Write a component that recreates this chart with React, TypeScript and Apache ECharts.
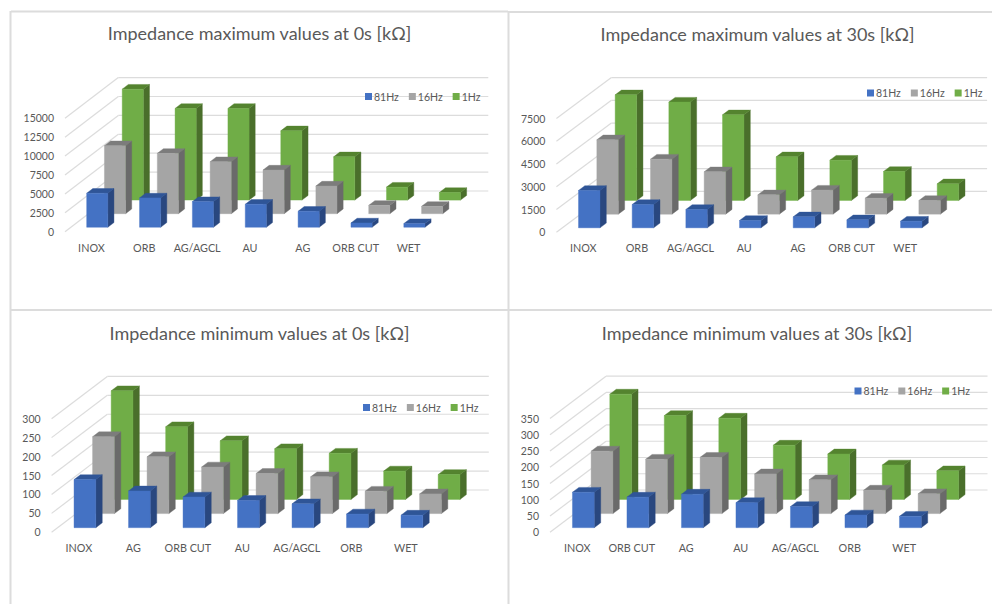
import React, { useEffect, useRef } from "react";
import * as echarts from "echarts";

const FONT = "Lato";
const TEXT = "#595959";
const WALL = "#dcdcdc";

// Frequencies, front row first
const freqs = ["81Hz", "16Hz", "1Hz"];

// Front, top and side shades of each frequency's bars
const shades: Record<string, string[]> = {
  "81Hz": ["#4472c4", "#2f5597", "#29477f"],
  "16Hz": ["#a5a5a5", "#7c7c7c", "#6a6a6a"],
  "1Hz": ["#70ad47", "#54832f", "#4a6f2b"],
};

// Impedance maximum values at 0s
const max0Categories = ["INOX", "ORB", "AG/AGCL", "AU", "AG", "ORB CUT", "WET"];
const max0Ticks = [0, 2500, 5000, 7500, 10000, 12500, 15000];
const max0Hz81 = [4500, 3880, 3395, 3040, 2115, 570, 485];
const max0Hz16 = [8995, 7980, 6880, 5775, 3660, 1100, 970];
const max0Hz1 = [14680, 12125, 12125, 9170, 5730, 1720, 1010];

// Impedance maximum values at 30s
const max30Categories = ["INOX", "ORB", "AG/AGCL", "AU", "AG", "ORB CUT", "WET"];
const max30Ticks = [0, 1500, 3000, 4500, 6000, 7500];
const max30Hz81 = [2465, 1540, 1210, 485, 725, 530, 440];
const max30Hz16 = [4905, 3630, 2795, 1275, 1585, 1055, 900];
const max30Hz1 = [6970, 6490, 5650, 2880, 2660, 1915, 1100];

// Impedance minimum values at 0s
const min0Categories = ["INOX", "AG", "ORB CUT", "AU", "AG/AGCL", "ORB", "WET"];
const min0Ticks = [0, 50, 100, 150, 200, 250, 300];
const min0Hz81 = [127, 97, 81, 72, 63, 36, 33];
const min0Hz16 = [203, 150, 123, 106, 97, 59, 52];
const min0Hz1 = [287, 192, 155, 134, 122, 75, 66];

// Impedance minimum values at 30s
const min30Categories = ["INOX", "ORB CUT", "AG", "AU", "AG/AGCL", "ORB", "WET"];
const min30Ticks = [0, 50, 100, 150, 200, 250, 300, 350];
const min30Hz81 = [109, 94, 103, 77, 65, 39, 35];
const min30Hz16 = [192, 167, 173, 122, 104, 72, 61];
const min30Hz1 = [324, 258, 250, 167, 140, 106, 88];

// Front plane of each plot, the shift of its back wall, and where its title and legend sit
const panels = [
  {
    title: "Impedance maximum values at 0s [kΩ]",
    categories: max0Categories, ticks: max0Ticks,
    values: [max0Hz81, max0Hz16, max0Hz1],
    left: 65, bottom: 231.7, width: 370, height: 113.4, dx: 53.3, dy: 40.7,
    titleX: 259.5, titleY: 24, legendX: 365, legendY: 97,
  },
  {
    title: "Impedance maximum values at 30s [kΩ]",
    categories: max30Categories, ticks: max30Ticks,
    values: [max30Hz81, max30Hz16, max30Hz1],
    left: 556.4, bottom: 232.3, width: 375.7, height: 113.7, dx: 55, dy: 41,
    titleX: 757.5, titleY: 25, legendX: 867, legendY: 93.5,
  },
  {
    title: "Impedance minimum values at 0s [kΩ]",
    categories: min0Categories, ticks: min0Ticks,
    values: [min0Hz81, min0Hz16, min0Hz1],
    left: 51.6, bottom: 532.3, width: 381.5, height: 113.6, dx: 55.7, dy: 42.3,
    titleX: 259.5, titleY: 324.3, legendX: 363, legendY: 408,
  },
  {
    title: "Impedance minimum values at 30s [kΩ]",
    categories: min30Categories, ticks: min30Ticks,
    values: [min30Hz81, min30Hz16, min30Hz1],
    left: 550, bottom: 532.3, width: 381.5, height: 113.8, dx: 56, dy: 42.3,
    titleX: 757, titleY: 324.3, legendX: 854.5, legendY: 391.5,
  },
];

const BAR_WIDTH = 0.4; // share of a category's band
const BAR_DEPTH = 0.115; // share of the floor's depth
const ROW_CENTERS = [1 / 6, 1 / 2, 5 / 6];

// Builds the option for all four plots: each has its own grid, axes and legend
function buildOption() {
  const grids: any[] = [];
  const xAxes: any[] = [];
  const yAxes: any[] = [];
  const series: any[] = [];
  const legends: any[] = [];
  const titles: any[] = [];

  panels.forEach((p, i) => {
    grids.push({
      left: p.left,
      top: p.bottom - p.height,
      width: p.width,
      height: p.height,
    });
    xAxes.push({
      type: "category",
      gridIndex: i,
      data: p.categories,
      axisLine: { show: false },
      axisTick: { show: false },
      axisLabel: {
        interval: 0,
        margin: 10,
        color: TEXT,
        fontFamily: FONT,
        fontSize: 10.8,
      },
    });
    const last = p.ticks[p.ticks.length - 1];
    yAxes.push({
      type: "value",
      gridIndex: i,
      min: 0,
      max: last,
      interval: p.ticks[1],
      axisLine: { show: false },
      axisTick: { show: false },
      splitLine: { show: false },
      axisLabel: {
        margin: 11,
        color: TEXT,
        fontFamily: FONT,
        fontSize: 10.5,
        formatter: (v: number) => String(v),
      },
    });
    titles.push({
      text: p.title,
      left: p.titleX,
      top: p.titleY,
      padding: 0,
      textAlign: "center",
      textStyle: {
        color: TEXT,
        fontFamily: FONT,
        fontSize: 18,
        fontWeight: "normal",
      },
    });
    legends.push({
      data: freqs,
      left: p.legendX,
      top: p.legendY - 6,
      itemWidth: 7,
      itemHeight: 7,
      itemGap: 10,
      padding: 0,
      selectedMode: false,
      icon: "rect",
      textStyle: {
        color: TEXT,
        fontFamily: FONT,
        fontSize: 10.5,
        padding: [0, 0, 0, -3],
      },
    });

    // Back wall and side wall rules, one per tick
    series.push({
      type: "custom",
      name: "walls",
      xAxisIndex: i,
      yAxisIndex: i,
      silent: true,
      encode: { x: 0, y: 1 },
      data: p.ticks.map((t) => [0, t]),
      renderItem: (params: any, api: any) => {
        const y = api.coord([0, api.value(1)])[1];
        const sys = params.coordSys;
        const line = (x1: number, y1: number, x2: number, y2: number) => ({
          type: "line",
          shape: { x1, y1, x2, y2 },
          style: { stroke: WALL, lineWidth: 1.2, fill: "none" },
        });
        return {
          type: "group",
          children: [
            line(sys.x, y, sys.x + p.dx, y - p.dy),
            line(sys.x + p.dx, y - p.dy, sys.x + sys.width + p.dx, y - p.dy),
          ],
        };
      },
    });

    // Rows are added back to front so that nearer bars cover farther ones
    [2, 1, 0].forEach((row) => {
      const name = freqs[row];
      const [front, top, side] = shades[name];
      series.push({
        type: "custom",
        name,
        xAxisIndex: i,
        yAxisIndex: i,
        silent: true,
        itemStyle: { color: front },
        encode: { x: 0, y: 1 },
        data: p.values[row].map((v, c) => [c, v]),
        renderItem: (_params: any, api: any) => {
          const cat = api.value(0);
          const val = api.value(1);
          const base = api.coord([cat, 0]);
          const peak = api.coord([cat, val]);
          const band = api.size([1, 0])[0];
          const w = band * BAR_WIDTH;
          const t = ROW_CENTERS[row] - BAR_DEPTH / 2;
          const x0 = base[0] - w / 2 + p.dx * t;
          const x1 = x0 + w;
          const yb = base[1] - p.dy * t;
          const yt = peak[1] - p.dy * t;
          const ox = p.dx * BAR_DEPTH;
          const oy = p.dy * BAR_DEPTH;
          const poly = (points: number[][], fill: string) => ({
            type: "polygon",
            shape: { points },
            style: { fill, stroke: fill, lineWidth: 0.4 },
          });
          return {
            type: "group",
            children: [
              poly([[x1, yb], [x1 + ox, yb - oy], [x1 + ox, yt - oy], [x1, yt]], side),
              poly([[x0, yt], [x1, yt], [x1 + ox, yt - oy], [x0 + ox, yt - oy]], top),
              poly([[x0, yb], [x1, yb], [x1, yt], [x0, yt]], front),
            ],
          };
        },
      });
    });
  });

  const frame = (x1: number, y1: number, x2: number, y2: number) => ({
    type: "line",
    silent: true,
    shape: { x1, y1, x2, y2 },
    style: { stroke: "#dcdcdc", lineWidth: 2 },
  });

  return {
    animation: false,
    backgroundColor: "#ffffff",
    title: titles,
    grid: grids,
    xAxis: xAxes,
    yAxis: yAxes,
    legend: legends,
    series,
    // Panel borders
    graphic: [
      frame(11, 11.5, 508, 11.5),
      frame(508, 12, 992, 12),
      frame(10.5, 11, 10.5, 604),
      frame(508.5, 11, 508.5, 604),
      frame(10, 310, 992, 310),
    ],
  };
}

export default function App() {
  const ref = useRef<HTMLDivElement>(null);

  useEffect(() => {
    const chart = echarts.init(ref.current!, undefined, { renderer: "svg" });
    chart.setOption(buildOption());
    return () => chart.dispose();
  }, []);

  return (
    <div
      ref={ref}
      style={{ position: "fixed", left: 0, top: 0, width: 992, height: 604 }}
    />
  );
}
